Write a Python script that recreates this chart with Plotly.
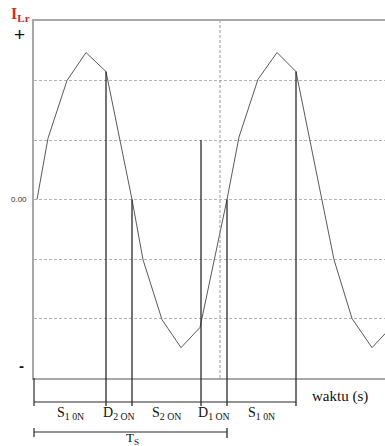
import plotly.graph_objects as go

# ---- data (time in arbitrary units, current in grid units) ----
t_curve = [3, 14, 33, 52, 72, 98, 109, 128, 147, 166, 193, 205, 224, 243, 262, 288, 300, 318, 338, 357]
i_curve = [0, 1.03, 2.0, 2.47, 2.15, 0, -1.01, -2.02, -2.49, -2.15, 0, 1.05, 2.02, 2.47, 2.15, 0, -1.01, -2.0, -2.49, -2.15]

switch_t = [72, 98, 167, 193, 262]
switch_top = [2.15, 0, 1.0, 0, 2.15]
dashed_t = 186

interval_labels = ["S<sub>1 0N</sub>", "D<sub>2 ON</sub>", "S<sub>2 ON</sub>", "D<sub>1 ON</sub>", "S<sub>1 0N</sub>"]
interval_bounds = [0] + switch_t
ts_end = 193

grid_vals = [-2, -1, 0, 1, 2]
x_range = [0, 351]
y_range = [-3, 3]

W, H = 385, 446
ML, MR, MT, MB = 34, 0, 21, 68
plot_h = H - MT - MB


def py(px):
    """pixel row -> paper y"""
    return (H - MB - px) / plot_h


fig = go.Figure()

# curve
fig.add_trace(go.Scatter(x=t_curve, y=i_curve, mode="lines",
                         line=dict(color="#5a5a5a", width=1), hoverinfo="skip"))

# switching instants inside plot
xs, ys = [], []
for t, top in zip(switch_t, switch_top):
    xs += [t, t, None]
    ys += [top, y_range[0], None]
fig.add_trace(go.Scatter(x=xs, y=ys, mode="lines",
                         line=dict(color="#2a2a2a", width=1.3), hoverinfo="skip"))

shapes = []
# dashed vertical
shapes.append(dict(type="line", xref="x", yref="paper", x0=dashed_t, x1=dashed_t, y0=0, y1=1,
                   line=dict(color="#9a9a9a", width=1, dash="3px,2px")))
# extensions below plot
y_ext = py(406)
shapes.append(dict(type="line", xref="paper", yref="paper", x0=0, x1=0, y0=0, y1=y_ext,
                   line=dict(color="#2a2a2a", width=1.2)))
for t in switch_t:
    shapes.append(dict(type="line", xref="x", yref="paper", x0=t, x1=t, y0=0, y1=y_ext,
                       line=dict(color="#2a2a2a", width=1.3)))
# time line
y_tl = py(402)
shapes.append(dict(type="line", xref="x", yref="paper", x0=0, x1=switch_t[-1], y0=y_tl, y1=y_tl,
                   line=dict(color="#2a2a2a", width=1.2)))
# Ts line
y_ts = py(432)
shapes.append(dict(type="line", xref="x", yref="paper", x0=0, x1=ts_end, y0=y_ts, y1=y_ts,
                   line=dict(color="#2a2a2a", width=1.2)))
shapes.append(dict(type="line", xref="paper", yref="paper", x0=0, x1=0, y0=py(428), y1=py(437),
                   line=dict(color="#2a2a2a", width=1.2)))
shapes.append(dict(type="line", xref="x", yref="paper", x0=ts_end, x1=ts_end, y0=py(428), y1=py(438),
                   line=dict(color="#2a2a2a", width=1.3)))

ann = []
serif = "Liberation Serif"
for i, lab in enumerate(interval_labels):
    mid = (interval_bounds[i] + interval_bounds[i + 1]) / 2
    ann.append(dict(x=mid, y=py(413), xref="x", yref="paper", text=lab, showarrow=False,
                    font=dict(family=serif, size=14, color="#111"), xanchor="center", yanchor="middle"))
ann.append(dict(x=306, y=py(396), xref="x", yref="paper", text="waktu (s)", showarrow=False,
                font=dict(family=serif, size=15, color="#111"), xanchor="center", yanchor="middle"))
ann.append(dict(x=ts_end / 2 + 2, y=py(438), xref="x", yref="paper", text="T<sub>S</sub>", showarrow=False,
                font=dict(family=serif, size=13, color="#111"), xanchor="center", yanchor="middle"))
ann.append(dict(x=0, y=1, xref="paper", yref="paper", text="<b>I<sub>Lr</sub></b>", showarrow=False,
                font=dict(family=serif, size=16, color="#d02828"), xanchor="center", yanchor="middle",
                xshift=-14, yshift=7))
ann.append(dict(x=0, y=1, xref="paper", yref="paper", text="+", showarrow=False,
                font=dict(family="Liberation Sans", size=19, color="#111"), xanchor="center", yanchor="middle",
                xshift=-15, yshift=-13))
ann.append(dict(x=0, y=0, xref="paper", yref="y", text="0.00", showarrow=False,
                font=dict(family="Liberation Sans", size=8, color="#333"), xanchor="right", yanchor="middle",
                xshift=-5))
ann.append(dict(x=0, y=0, xref="paper", yref="paper", text="<b>-</b>", showarrow=False,
                font=dict(family="Liberation Sans", size=15, color="#111"), xanchor="center", yanchor="middle",
                xshift=-13, yshift=378 - 365))

fig.update_layout(
    width=W, height=H,
    margin=dict(l=ML, r=MR, t=MT, b=MB, pad=0),
    paper_bgcolor="white", plot_bgcolor="white",
    showlegend=False,
    shapes=shapes, annotations=ann,
    xaxis=dict(range=x_range, showgrid=False, zeroline=False, showticklabels=False, ticks="",
               showline=True, mirror=True, linecolor="#a8a8a8", linewidth=1.5, fixedrange=True),
    yaxis=dict(range=y_range, tickvals=grid_vals, showgrid=True, gridcolor="#b4b4b4", gridwidth=1,
               griddash="3px,2px", zeroline=False, showticklabels=False, ticks="",
               showline=True, mirror=False, linecolor="#a8a8a8", linewidth=1.5, fixedrange=True),
)

fig.write_html("out.html", config={"displayModeBar": False})
